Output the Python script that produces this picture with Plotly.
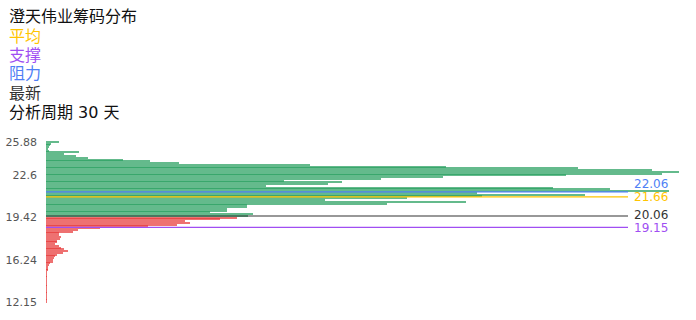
import numpy as np
import plotly.graph_objects as go

# ---------------- data ----------------
stock_name = "澄天伟业"
period_days = 30

# price levels (category axis, bottom -> top)
prices = [
    12.15, 12.32, 12.49, 12.66, 12.83, 13.00, 13.17, 13.34, 13.51, 13.68,
    13.85, 14.02, 14.19, 14.37, 14.54, 14.71, 14.88, 15.05, 15.22, 15.39,
    15.56, 15.73, 15.90, 16.07, 16.24, 16.40, 16.56, 16.72, 16.88, 17.04,
    17.20, 17.37, 17.53, 17.69, 17.85, 18.01, 18.17, 18.33, 18.49, 18.65,
    18.81, 18.97, 19.13, 19.18, 19.23, 19.28, 19.32, 19.37, 19.42, 20.13,
    20.27, 20.41, 20.56, 20.70, 20.84, 20.99, 21.13, 21.27, 21.41, 21.56,
    21.70, 21.84, 21.98, 22.12, 22.17, 22.23, 22.28, 22.33, 22.39, 22.44,
    22.49, 22.55, 22.60, 22.77, 22.95, 23.12, 23.29, 23.46, 23.64, 23.81,
    23.98, 24.15, 24.33, 24.50, 24.67, 24.84, 25.02, 25.19, 25.36, 25.53,
    25.71, 25.88,
]

# chip volume at each price level (bottom -> top)
chips = [
    0.4, 0.4, 0.5, 0.4, 0.5, 0.5, 0.5, 0.6, 0.5, 0.6,
    0.7, 0.6, 0.8, 0.7, 0.9, 0.8, 1.0, 1.0, 1.3, 1.7,
    2.0, 3.0, 4.0, 7.0, 7.0, 8.0, 9.0, 11.0, 17.0, 22.0,
    18.0, 15.0, 13.0, 9.0, 11.0, 11.0, 14.0, 15.0, 13.0, 13.0,
    27.0, 32.0, 54.0, 102.0, 131.0, 144.0, 139.0, 174.0, 191.0, 202.0,
    207.0, 164.0, 181.0, 181.0, 201.0, 201.0, 341.0, 420.0, 279.0, 361.0,
    436.0, 539.0, 431.0, 623.0, 564.0, 507.0, 220.0, 282.0, 296.0, 238.0,
    335.0, 397.0, 520.0, 616.0, 633.0, 606.0, 532.0, 400.0, 264.0, 133.0,
    104.0, 77.0, 42.0, 30.0, 18.0, 33.0, 3.0, 2.0, 3.0, 4.0,
    5.0, 13.0,
]

tick_labels = [12.15, 16.24, 19.42, 22.6, 25.88]

avg_price = 21.66      # 平均
support_price = 19.15  # 支撑
resist_price = 22.06   # 阻力
latest_price = 20.06   # 最新

# ---------------- styles ----------------
GREEN = "#28a060"
RED = "#e83a3a"
C_AVG = "#ffc400"
C_SUP = "#a04ef2"
C_RES = "#4f7ff5"
C_LAST = "#333333"
FONT = "DejaVu Sans, Noto Sans CJK SC, sans-serif"

W, H = 696, 320
ML, MR, MT, MB = 46, 16, 141, 17
PW = W - ML - MR
PH = H - MT - MB

idx = np.arange(len(prices))
colors = [RED if p <= latest_price else GREEN for p in prices]

fig = go.Figure(
    go.Bar(
        x=chips,
        y=idx,
        orientation="h",
        marker=dict(color=colors, line=dict(width=0), opacity=0.72),
        hoverinfo="skip",
    )
)

tickvals = [int(np.argmin(np.abs(np.array(prices) - t))) for t in tick_labels]
ticktext = [f"{t:g}" for t in tick_labels]

fig.update_layout(
    width=W,
    height=H,
    margin=dict(l=ML, r=MR, t=MT, b=MB, autoexpand=False),
    paper_bgcolor="white",
    plot_bgcolor="white",
    bargap=0.4,
    showlegend=False,
    font=dict(family=FONT),
    xaxis=dict(visible=False, range=[0, 634], fixedrange=True),
    yaxis=dict(
        automargin=False,
        range=[-0.5, len(prices) - 0.5],
        tickvals=tickvals,
        ticktext=ticktext,
        showgrid=False,
        zeroline=False,
        showline=False,
        ticks="",
        ticklabelstandoff=8,
        tickfont=dict(size=11, color="#555555", family=FONT),
    ),
)

# horizontal reference lines with value labels
line_end = (628 - ML) / PW
label_x = (632 - ML) / PW
for val, col, dy in [(resist_price, C_RES, 8), (avg_price, C_AVG, 0),
                     (latest_price, C_LAST, 1), (support_price, C_SUP, -1)]:
    yv = float(np.interp(val, prices, idx))
    fig.add_shape(type="line", xref="paper", yref="y", x0=0, x1=line_end,
                  y0=yv, y1=yv, line=dict(color=col, width=1.2))
    fig.add_annotation(xref="paper", yref="y", x=label_x, y=yv, yshift=dy,
                       text=f"{val:.2f}", showarrow=False,
                       xanchor="left", yanchor="middle",
                       font=dict(size=12, color=col, family=FONT))

# title / legend block at top-left
legend_lines = [
    (f"{stock_name}筹码分布", "#111111", 17),
    ("平均", C_AVG, 36),
    ("支撑", C_SUP, 55),
    ("阻力", C_RES, 74),
    ("最新", C_LAST, 93),
    (f"分析周期 {period_days} 天", "#111111", 112),
]
for txt, col, py in legend_lines:
    fig.add_annotation(xref="paper", yref="paper",
                       x=(7 - ML) / PW, y=(H - MB - py) / PH,
                       text=txt, showarrow=False, xanchor="left", yanchor="middle",
                       font=dict(size=16, color=col, family=FONT))

fig.write_html("out.html")
